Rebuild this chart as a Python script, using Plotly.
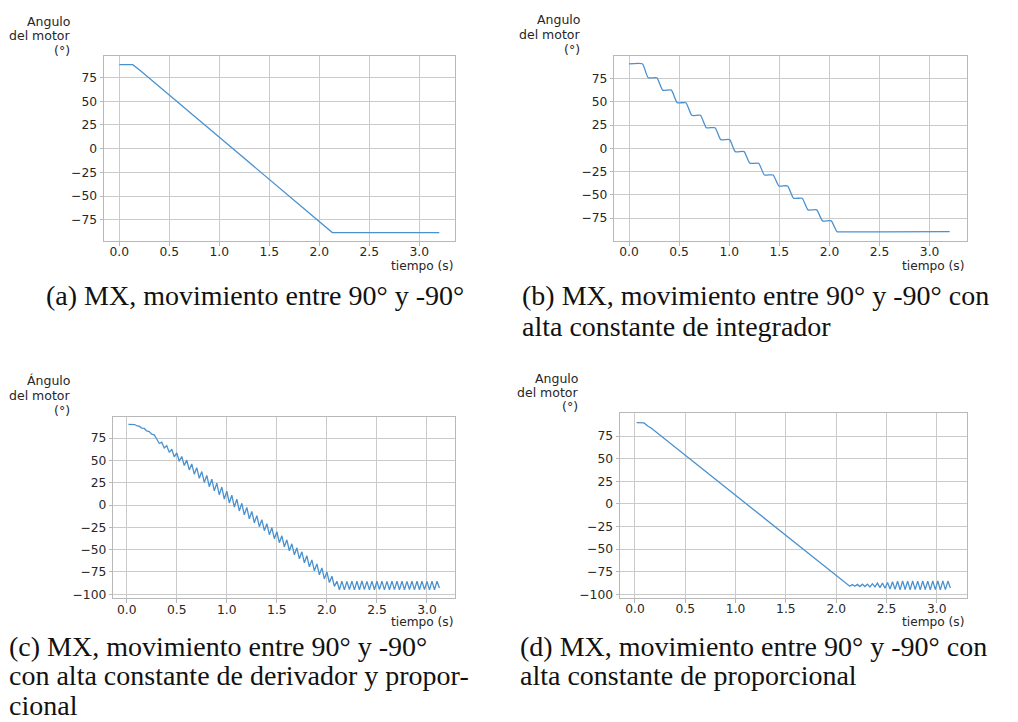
import plotly.graph_objects as go

W, H = 1018, 722

# ---------------- data ----------------
# (a) MX 90 -> -90
a_t = [0.0, 0.135, 0.2, 0.5, 1.0, 1.5, 2.0, 2.13, 2.5, 3.0, 3.2]
a_y = [88.6, 88.6, 83.3, 56.5, 12.0, -32.5, -77.0, -88.6, -88.6, -88.6, -88.6]

# (b) staircase (high integral constant)
b_t = [0.0, 0.133, 0.191, 0.278, 0.336, 0.423, 0.481, 0.568, 0.626, 0.713, 0.771,
       0.858, 0.916, 1.003, 1.061, 1.148, 1.206, 1.293, 1.351, 1.438, 1.496,
       1.583, 1.641, 1.728, 1.786, 1.873, 1.931, 2.018, 2.076, 2.12, 2.5, 3.2]
b_y = [90.7, 90.7, 75.7, 75.7, 62.5, 62.5, 48.9, 48.9, 35.4, 35.4, 22.1,
       22.1, 9.3, 9.3, -3.6, -3.6, -16.1, -16.1, -28.6, -28.6, -40.4,
       -40.4, -53.6, -53.6, -66.1, -66.1, -77.9, -77.9, -89.6, -89.6, -89.6, -89.5]

# (c) high derivative + proportional constants (oscillating)
c_t = [0.017, 0.08, 0.105, 0.125, 0.15, 0.175, 0.2, 0.225, 0.25, 0.275,
       0.300, 0.325, 0.350, 0.375, 0.400, 0.425, 0.450, 0.475, 0.500, 0.525,
       0.550, 0.575, 0.600, 0.625, 0.650, 0.675, 0.700, 0.725, 0.750, 0.775,
       0.800, 0.825, 0.850, 0.875, 0.900, 0.925, 0.950, 0.975, 1.000, 1.025,
       1.050, 1.075, 1.100, 1.125, 1.150, 1.175, 1.200, 1.225, 1.250, 1.275,
       1.300, 1.325, 1.350, 1.375, 1.400, 1.425, 1.450, 1.475, 1.500, 1.525,
       1.550, 1.575, 1.600, 1.625, 1.650, 1.675, 1.700, 1.725, 1.750, 1.775,
       1.800, 1.825, 1.850, 1.875, 1.900, 1.925, 1.950, 1.975, 2.000, 2.025,
       2.050, 2.075, 2.100, 2.125, 2.150, 2.175, 2.200, 2.225, 2.250, 2.275,
       2.300, 2.325, 2.350, 2.375, 2.400, 2.425, 2.450, 2.475, 2.500, 2.525,
       2.550, 2.575, 2.600, 2.625, 2.650, 2.675, 2.700, 2.725, 2.750, 2.775,
       2.800, 2.825, 2.850, 2.875, 2.900, 2.925, 2.950, 2.975, 3.000, 3.025,
       3.050, 3.075, 3.100, 3.125]
c_y = [90.5, 90.2, 88.6, 88.4, 86.2, 85.8, 83.0, 82.4, 79.4, 78.6,
       74.0, 69.0, 70.5, 64.0, 66.5, 59.0, 62.5, 54.0, 58.5, 49.0,
       54.4, 44.2, 50.3, 39.3, 46.1, 34.6, 41.8, 29.9, 37.5, 25.3,
       33.2, 20.5, 28.9, 15.8, 24.5, 11.3, 20.1, 6.7, 15.6, 2.3,
       11.0, -2.3, 6.5, -6.7, 1.9, -11.1, -2.7, -15.5, -7.3, -19.9,
       -11.9, -24.3, -16.5, -28.8, -21.0, -33.3, -25.5, -37.8, -30.0, -42.3,
       -34.5, -46.8, -39.0, -51.3, -43.5, -55.8, -48.0, -60.3, -52.5, -64.8,
       -57.0, -69.3, -61.5, -73.8, -66.0, -78.3, -70.5, -82.8, -75.0, -87.0,
       -79.9, -91.3, -85.5, -95.0, -85.3, -95.2, -85.6, -94.8, -85.4, -95.1,
       -85.5, -95.0, -85.2, -94.9, -85.6, -95.2, -85.4, -95.0, -85.5, -94.8,
       -85.3, -95.1, -85.6, -95.0, -85.4, -94.9, -85.5, -95.2, -85.3, -95.0,
       -85.6, -94.8, -85.4, -95.1, -85.5, -95.0, -85.3, -94.9, -85.6, -95.2,
       -85.4, -95.0, -85.5, -93.0]

# (d) high proportional constant
d_t = [0.017, 0.09, 0.13, 0.16, 0.5, 1.0, 1.5, 2.0, 2.11,
       2.135, 2.160, 2.185, 2.210, 2.235, 2.260, 2.285, 2.310, 2.335, 2.360,
       2.385, 2.410, 2.435, 2.460, 2.485, 2.510, 2.535, 2.560, 2.585, 2.610,
       2.635, 2.660, 2.685, 2.710, 2.735, 2.760, 2.785, 2.810, 2.835, 2.860,
       2.885, 2.910, 2.935, 2.960, 2.985, 3.010, 3.035, 3.060, 3.085, 3.110,
       3.135]
d_y = [90.0, 89.6, 86.0, 84.0, 53.9, 9.7, -34.6, -78.9, -88.8,
       -91.0, -89.0, -91.0, -89.0, -91.3, -88.7, -91.3, -88.7, -91.8, -88.2,
       -91.8, -87.5, -92.5, -87.5, -93.2, -86.8, -94.0, -86.0, -94.5, -85.5,
       -95.0, -85.0, -94.6, -85.4, -95.0, -85.0, -94.7, -85.3, -95.0, -85.1,
       -94.6, -85.4, -95.0, -85.0, -94.8, -85.2, -95.0, -85.1, -94.7, -85.3,
       -93.0]

x_ticks = [0.0, 0.5, 1.0, 1.5, 2.0, 2.5, 3.0]
y_ticks_ab = [-75, -50, -25, 0, 25, 50, 75]
y_ticks_cd = [-100, -75, -50, -25, 0, 25, 50, 75]

x_label = "tiempo (s)"
y_label_ab = ["Angulo", "del motor", "(°)"]
y_label_c = ["Ángulo", "del motor", "(°)"]
y_label_d = ["Angulo", "del motor", "(°)"]

cap_a = ["(a) MX, movimiento entre 90° y -90°"]
cap_b = ["(b) MX, movimiento entre 90° y -90° con", "alta constante de integrador"]
cap_c = ["(c) MX, movimiento entre 90° y -90°",
         "con alta constante de derivador y propor-", "cional"]
cap_d = ["(d) MX, movimiento entre 90° y -90° con", "alta constante de proporcional"]

# ---------------- layout helpers ----------------
def px(x):
    return x / W

def py(y):
    return 1 - y / H

LINE = "#4a92cf"
GRID = "#cbcbcb"
FRAME = "#b8b8b8"
TXT = "#262626"
SANS = "DejaVu Sans"
SERIF = "Liberation Serif"

panels = [
    dict(box=(104, 455, 56, 241), xr=[-0.153, 3.357], yr=[-97.5, 97.8],
         yt=y_ticks_ab, t=a_t, y=a_y, shape="linear"),
    dict(box=(614.3, 966.7, 55.7, 241), xr=[-0.147, 3.37], yr=[-99.5, 99.4],
         yt=y_ticks_ab, t=b_t, y=b_y, shape="spline"),
    dict(box=(113.3, 455.3, 416.7, 598.3), xr=[-0.134, 3.283], yr=[-104.6, 99.0],
         yt=y_ticks_cd, t=c_t, y=c_y, shape="linear"),
    dict(box=(620, 966.7, 413.3, 598), xr=[-0.149, 3.297], yr=[-104.0, 100.3],
         yt=y_ticks_cd, t=d_t, y=d_y, shape="linear"),
]

fig = go.Figure()
layout = dict(
    width=W, height=H, margin=dict(l=0, r=0, t=0, b=0, autoexpand=False),
    paper_bgcolor="white", plot_bgcolor="white", showlegend=False,
    font=dict(family=SANS, color=TXT),
)

for i, p in enumerate(panels, start=1):
    sfx = "" if i == 1 else str(i)
    l, r, t, b = p["box"]
    line = dict(color=LINE, width=1.3, shape=p["shape"])
    if p["shape"] == "spline":
        line["smoothing"] = 0.5
    fig.add_trace(go.Scatter(x=p["t"], y=p["y"], mode="lines", line=line,
                             xaxis="x" + sfx, yaxis="y" + sfx,
                             hoverinfo="skip"))
    common = dict(showgrid=True, gridcolor=GRID, gridwidth=1.3,
                  showline=True, linecolor=FRAME, linewidth=1, mirror=True,
                  zeroline=False, ticks="outside", ticklen=3.5, tickcolor=FRAME,
                  tickfont=dict(family=SANS, size=12.3, color=TXT))
    layout["xaxis" + sfx] = dict(domain=[px(l), px(r)], range=p["xr"],
                                 anchor="y" + sfx, tickvals=x_ticks,
                                 tickformat=".1f", ticklabelstandoff=-4, **common)
    layout["yaxis" + sfx] = dict(domain=[py(b), py(t)], range=p["yr"],
                                 anchor="x" + sfx, tickvals=p["yt"],
                                 tickformat="d", **common)

annotations = []

def text_line(txt, x, y, size, family, xanchor="left"):
    annotations.append(dict(text=txt, x=px(x), y=py(y), xref="paper", yref="paper",
                            xanchor=xanchor, yanchor="middle", showarrow=False,
                            font=dict(family=family, size=size,
                                      color="#111" if family == SERIF else TXT)))

# y labels (right aligned, three lines)
for lines, xr_, y0 in [(y_label_ab, 72, 21), (y_label_ab, 582, 20),
                       (y_label_c, 72, 381), (y_label_d, 580, 378)]:
    for j, ln in enumerate(lines):
        text_line(ln, xr_, y0 + j * 14.5, 12.5, SANS, "right")

# x labels
for xr_, yy in [(455, 266), (966, 266), (455, 622), (966, 622)]:
    text_line(x_label, xr_, yy, 12.2, SANS, "right")

# captions
text_line(cap_a[0], 255, 295, 28, SERIF, "center")
for j, ln in enumerate(cap_b):
    text_line(ln, 520, 295 + j * 31, 28, SERIF)
for j, ln in enumerate(cap_c):
    text_line(ln, 7, 646 + j * 29.5, 28, SERIF)
for j, ln in enumerate(cap_d):
    text_line(ln, 518, 646 + j * 29.5, 28, SERIF)

layout["annotations"] = annotations
fig.update_layout(**layout)
fig.write_html(
    "out.html",
    config={"displayModeBar": False},
    post_script="document.body.style.margin='0';document.body.style.padding='0';"
                "document.documentElement.style.overflow='hidden';",
)
